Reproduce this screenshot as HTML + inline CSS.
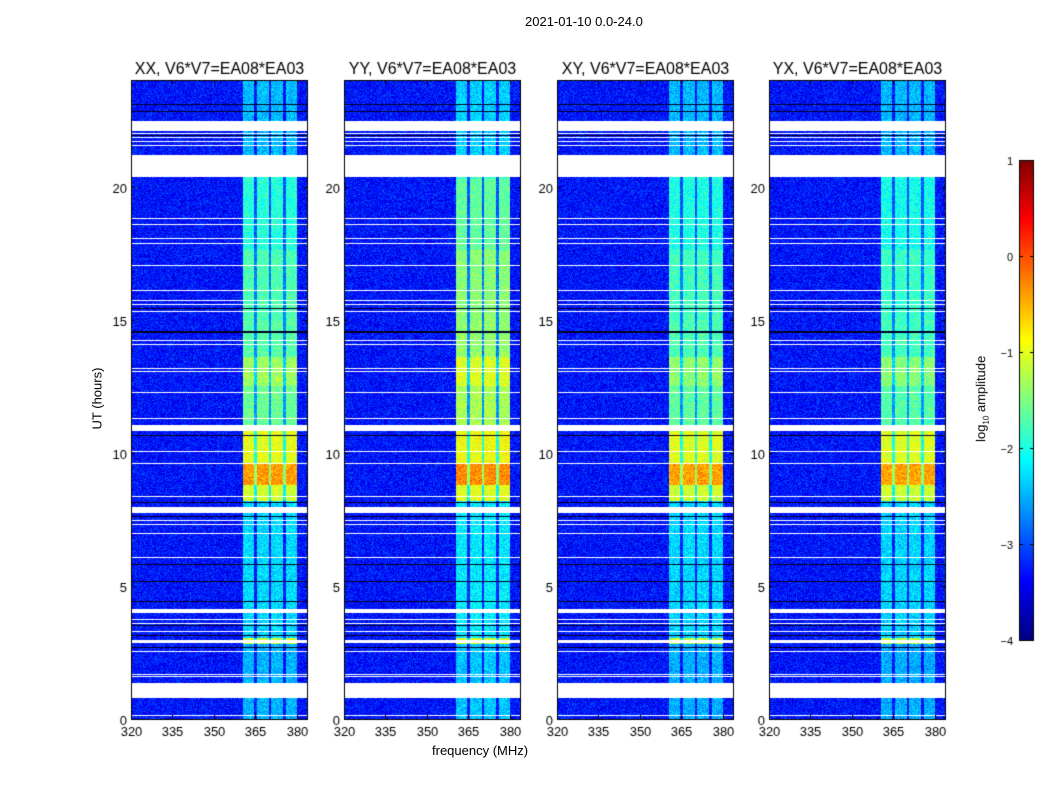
<!DOCTYPE html>
<html><head><meta charset="utf-8"><style>
body{margin:0;background:#fff;width:1050px;height:800px;overflow:hidden;font-family:"Liberation Sans",sans-serif;}
#root{position:relative;width:1050px;height:800px;}
.t{position:absolute;color:#000;white-space:nowrap;z-index:5;}
canvas{position:absolute;z-index:1;}
</style></head><body><div id="root">
<div class="t" style="left:525px;top:14px;font-size:13px;">2021-01-10 0.0-24.0</div>
<div class="t" style="left:432px;top:743px;font-size:13px;">frequency (MHz)</div>
<div class="t" style="left:62px;top:391px;font-size:13px;transform:rotate(-90deg);transform-origin:center;width:70px;text-align:center;">UT (hours)</div>
<canvas id="c" width="1050" height="800" style="left:0;top:0"></canvas>
<div class="t" style="left:932px;top:390px;font-size:13px;transform:rotate(-90deg);transform-origin:center;width:100px;text-align:center;">log<sub style="font-size:8px">10</sub> amplitude</div>
</div>
<script>
const panelTitles=["XX, V6*V7=EA08*EA03","YY, V6*V7=EA08*EA03","XY, V6*V7=EA08*EA03","YX, V6*V7=EA08*EA03"];
const panelGain=[0,0.3,-0.05,-0.1];
const xTicks=[320,335,350,365,380];
const yTicks=[0,5,10,15,20];
const cbTicks=[1,0,-1,-2,-3,-4];
const bandEdges=[[360.5,364.6],[365.6,369.9],[370.8,375.0],[376.0,380.0]];
// RFI band log-amplitude per time segment [startHour,endHour,value]
const bandLevels=[[0,2.83,-2.5],[2.83,3.05,-1.1],[3.05,8.2,-2.3],[8.2,8.8,-1.1],[8.8,9.6,-0.4],[9.6,10.8,-1.0],[11.05,12.5,-1.6],[12.5,13.6,-1.35],[13.6,15.0,-1.7],[15.0,17.6,-1.75],[17.6,20.35,-1.95],[20.35,24,-2.45]];
const flagWide=[[0.8,1.35],[2.86,2.98],[4.0,4.12],[7.72,7.98],[10.82,11.05],[20.35,21.2],[22.1,22.45]];
const flagLines=[0.15,1.58,1.69,2.52,3.27,3.57,3.72,6.08,6.95,7.32,7.44,8.34,9.61,10.03,11.27,12.28,13.07,13.18,14.05,14.23,15.32,15.55,15.73,16.11,17.05,17.87,18.06,18.59,18.78,21.55,21.7,21.85,22.0];
const darkLines=[2.7,3.12,3.53,4.43,5.18,5.82,7.62,8.15,10.66,14.5,14.57,15.43,21.93,22.8,23.09];
const panelLeft=[131,344,557,769];
const PW=177,PT=80,PH=639,F0=320,F1=384,H1=24;
function jet(v){v=Math.max(0,Math.min(1,v));const r=Math.min(4*v-1.5,-4*v+4.5),g=Math.min(4*v-0.5,-4*v+3.5),b=Math.min(4*v+0.5,-4*v+2.5);
return [255*Math.max(0,Math.min(1,r)),255*Math.max(0,Math.min(1,g)),255*Math.max(0,Math.min(1,b))];}
function xS(f,p){return panelLeft[p]+(f-F0)/(F1-F0)*PW;}
function yS(h){return PT+PH-h/H1*PH;}
function hash(a,b){let n=(a*374761393+b*668265263)|0;n=(n^(n>>>13))*1274126177|0;return ((n^(n>>>16))>>>0)/4294967296;}
const cv=document.getElementById('c'),ctx=cv.getContext('2d');
const img=ctx.createImageData(1050,800);
for(let i=0;i<img.data.length;i++)img.data[i]=255;
function put(x,y,c){const k=(y*1050+x)*4;img.data[k]=c[0];img.data[k+1]=c[1];img.data[k+2]=c[2];}
const lineRow=(h,arr)=>arr.some(l=>Math.abs(h-l)<H1/PH*0.5);
for(let p=0;p<4;p++){
 for(let py=0;py<PH;py++){
  const h=(PH-py-0.5)/PH*H1;
  if(flagWide.some(w=>h>=w[0]&&h<=w[1]))continue;
  const white=lineRow(h,flagLines);
  const dark=lineRow(h,darkLines);
  let lev=null;for(const s of bandLevels)if(h>=s[0]&&h<s[1])lev=s[2];
  for(let px=0;px<PW;px++){
   const f=F0+(px+0.5)/PW*(F1-F0);
   let c;
   if(white)c=[255,255,255];else if(dark)c=[0,0,40];
   else{
    let v=-3.3+(hash(px+p*999,py)-0.5)*0.7;
    const inB=bandEdges.some(b=>f>=b[0]&&f<=b[1]);
    if(inB&&lev!==null)v=lev+panelGain[p]*(h>11&&h<20.3?1:0.3)+(hash(px,py+p*77)-0.5)*0.6;
    else if(f>=360.5&&f<=380&&lev!==null)v=Math.max(v,lev-1.0+(hash(px,py)-0.5)*0.5);
    c=jet((v+4)/5);
   }
   put(panelLeft[p]+px,PT+py,c);
  }
 }
}
const cbL=1019,cbT=160,cbH=480,cbW=15;
for(let y=0;y<cbH;y++){const c=jet(1-(y+0.5)/cbH);for(let x=0;x<cbW;x++)put(cbL+x,cbT+y,c);}
ctx.putImageData(img,0,0);
ctx.strokeStyle='#000';ctx.lineWidth=1;ctx.fillStyle='#000';
for(let p=0;p<4;p++){
 ctx.strokeRect(panelLeft[p]+0.5,PT+0.5,PW-1,PH);
 ctx.font='16px "Liberation Sans",sans-serif';ctx.textAlign='center';
 ctx.fillText(panelTitles[p],panelLeft[p]+PW/2,74);
 ctx.font='13px "Liberation Sans",sans-serif';
 for(const t of xTicks){const x=Math.round(xS(t,p))+0.5;ctx.beginPath();ctx.moveTo(x,PT+PH);ctx.lineTo(x,PT+PH-4);ctx.moveTo(x,PT);ctx.lineTo(x,PT+4);ctx.stroke();ctx.fillText(String(t),x,PT+PH+17);}
 ctx.textAlign='right';
 for(const t of yTicks){const y=Math.round(yS(t))+0.5;ctx.beginPath();ctx.moveTo(panelLeft[p],y);ctx.lineTo(panelLeft[p]+4,y);ctx.moveTo(panelLeft[p]+PW,y);ctx.lineTo(panelLeft[p]+PW-4,y);ctx.stroke();ctx.fillText(String(t),panelLeft[p]-4,y+5);}
}
ctx.strokeRect(cbL+0.5,cbT+0.5,cbW-1,cbH);
ctx.font='11px "Liberation Sans",sans-serif';ctx.textAlign='right';
for(const t of cbTicks){const y=Math.round(cbT+(1-t)/5*cbH)+0.5;ctx.beginPath();ctx.moveTo(cbL,y);ctx.lineTo(cbL+4,y);ctx.moveTo(cbL+cbW,y);ctx.lineTo(cbL+cbW-4,y);ctx.stroke();ctx.fillText(t<0?'\u2212'+(-t):String(t),1013,y+4);}
</script></body></html>
